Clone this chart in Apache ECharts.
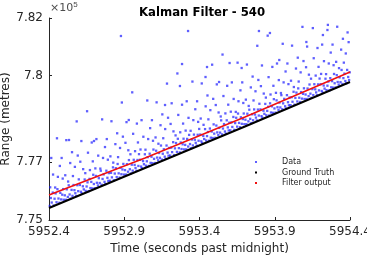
<!DOCTYPE html>
<html>
<head>
<meta charset="utf-8">
<script src="https://cdn.jsdelivr.net/npm/echarts@6/dist/echarts.min.js"></script>
<style>
  html, body { margin: 0; padding: 0; background: #fff; }
  #chart { width: 367px; height: 257px; }
</style>
</head>
<body>
<div id="chart"></div>
<script>
const xTicks = [5952.4, 5952.9, 5953.4, 5953.9, 5954.4];
const yTicks = [775000, 777000, 780000, 782000];
const seriesNames = ['Data', 'Ground Truth', 'Filter output'];

// ground truth and filter output, read at a few times along the lines
const truthPoints = [[5952.4, 775416], [5953.038, 776802], [5953.702, 778240], [5954.4, 779782]];
const filterPoints = [[5952.4, 775866], [5953.038, 777148], [5953.702, 778569], [5954.4, 780128]];

// measured ranges (blue dots)
const dataPoints = [
  [5952.405,775487],[5952.412,775762],[5952.418,775605],[5952.425,775951],[5952.431,775504],[5952.437,775737],[5952.444,775922],[5952.450,775615],
  [5952.456,776068],[5952.463,775744],[5952.469,775597],[5952.475,775940],[5952.481,775713],[5952.488,775878],[5952.494,776071],[5952.498,775700],
  [5952.408,776133],[5952.427,776575],[5952.441,776126],[5952.459,776495],[5952.472,776873],[5952.491,776435],[5952.415,777149],[5952.453,777832],[5952.484,777149],

  [5952.505,775855],[5952.512,775700],[5952.518,776063],[5952.525,775799],[5952.531,776202],[5952.537,775885],[5952.544,775740],[5952.550,776043],
  [5952.556,775836],[5952.563,776212],[5952.569,776035],[5952.575,775928],[5952.581,775831],[5952.588,776206],[5952.594,775999],[5952.598,776408],
  [5952.508,776551],[5952.527,776333],[5952.541,776974],[5952.559,776523],[5952.572,776841],[5952.591,777233],[5952.515,777767],[5952.553,777350],[5952.584,778417],

  [5952.605,776214],[5952.612,775979],[5952.618,775922],[5952.625,776168],[5952.631,776061],[5952.637,776404],[5952.644,776009],[5952.650,776162],
  [5952.656,776305],[5952.663,776001],[5952.669,776424],[5952.675,776107],[5952.681,776320],[5952.688,776095],[5952.694,776568],[5952.698,776247],
  [5952.608,777020],[5952.627,776762],[5952.641,776623],[5952.659,777332],[5952.672,776730],[5952.691,777032],[5952.615,777736],[5952.653,778769],[5952.684,777686],

  [5952.705,776102],[5952.712,776527],[5952.718,776290],[5952.725,776196],[5952.731,776449],[5952.737,776282],[5952.744,776707],[5952.750,776220],
  [5952.756,776423],[5952.763,776579],[5952.769,776322],[5952.775,776245],[5952.781,776708],[5952.788,776463],[5952.794,776356],[5952.798,776625],
  [5952.708,776788],[5952.727,777230],[5952.741,776781],[5952.759,777150],[5952.772,777528],[5952.791,777090],[5952.715,777804],[5952.753,778487],[5952.784,777804],

  [5952.805,776360],[5952.812,776635],[5952.818,776478],[5952.825,776824],[5952.831,776377],[5952.837,776610],[5952.844,776795],[5952.850,776488],
  [5952.856,776941],[5952.863,776617],[5952.869,776470],[5952.875,776813],[5952.881,776586],[5952.888,776751],[5952.894,776944],[5952.898,776573],
  [5952.808,777206],[5952.827,776988],[5952.841,777629],[5952.859,777178],[5952.872,777496],[5952.891,777888],[5952.815,778422],[5952.853,778005],[5952.884,779072],

  [5952.905,776729],[5952.912,776574],[5952.918,776937],[5952.925,776673],[5952.931,777076],[5952.937,776759],[5952.944,776614],[5952.950,776917],
  [5952.956,776710],[5952.963,777086],[5952.969,776909],[5952.975,776802],[5952.981,776705],[5952.988,777080],[5952.994,776873],[5952.998,777282],
  [5952.908,777675],[5952.927,777417],[5952.941,777278],[5952.959,777987],[5952.972,777385],[5952.991,777687],[5952.915,778391],[5952.953,779424],[5952.984,778341],

  [5953.005,777087],[5953.012,776852],[5953.018,776795],[5953.025,777041],[5953.031,776934],[5953.037,777277],[5953.044,776882],[5953.050,777035],
  [5953.056,777178],[5953.063,776874],[5953.069,777297],[5953.075,776980],[5953.081,777193],[5953.088,776968],[5953.094,777441],[5953.098,777120],
  [5953.008,777443],[5953.027,777885],[5953.041,777436],[5953.059,777805],[5953.072,778183],[5953.091,777745],[5953.015,778459],[5953.053,779142],[5953.084,778459],

  [5953.105,776975],[5953.112,777400],[5953.118,777163],[5953.125,777069],[5953.131,777322],[5953.137,777155],[5953.144,777580],[5953.150,777093],
  [5953.156,777296],[5953.163,777452],[5953.169,777195],[5953.175,777118],[5953.181,777581],[5953.188,777336],[5953.194,777229],[5953.198,777498],
  [5953.108,777861],[5953.127,777643],[5953.141,778284],[5953.159,777833],[5953.172,778151],[5953.191,778543],[5953.115,779077],[5953.153,778660],[5953.184,779727],

  [5953.205,777233],[5953.212,777508],[5953.218,777351],[5953.225,777697],[5953.231,777250],[5953.237,777483],[5953.244,777668],[5953.250,777361],
  [5953.256,777814],[5953.263,777490],[5953.269,777343],[5953.275,777686],[5953.281,777459],[5953.288,777624],[5953.294,777817],[5953.298,777446],
  [5953.208,778329],[5953.227,778071],[5953.241,777932],[5953.259,778641],[5953.272,778039],[5953.291,778341],[5953.215,779045],[5953.253,780078],[5953.284,778995],

  [5953.305,777602],[5953.312,777447],[5953.318,777810],[5953.325,777546],[5953.331,777949],[5953.337,777632],[5953.344,777487],[5953.350,777790],
  [5953.356,777583],[5953.363,777959],[5953.369,777782],[5953.375,777675],[5953.381,777578],[5953.388,777953],[5953.394,777746],[5953.398,778155],
  [5953.308,778098],[5953.327,778540],[5953.341,778091],[5953.359,778460],[5953.372,778838],[5953.391,778400],[5953.315,779114],[5953.353,779797],[5953.384,779114],

  [5953.405,777960],[5953.412,777725],[5953.418,777668],[5953.425,777914],[5953.431,777807],[5953.437,778150],[5953.444,777755],[5953.450,777908],
  [5953.456,778051],[5953.463,777747],[5953.469,778170],[5953.475,777853],[5953.481,778066],[5953.488,777841],[5953.494,778314],[5953.498,777993],
  [5953.408,778516],[5953.427,778298],[5953.441,778939],[5953.459,778488],[5953.472,778806],[5953.491,779198],[5953.415,779732],[5953.453,779315],[5953.484,780382],

  [5953.505,777848],[5953.512,778273],[5953.518,778036],[5953.525,777942],[5953.531,778195],[5953.537,778028],[5953.544,778453],[5953.550,777966],
  [5953.556,778169],[5953.563,778325],[5953.569,778068],[5953.575,777991],[5953.581,778454],[5953.588,778209],[5953.594,778102],[5953.598,778371],
  [5953.508,778984],[5953.527,778726],[5953.541,778587],[5953.559,779296],[5953.572,778694],[5953.591,778996],[5953.515,779700],[5953.553,780733],[5953.584,779650],

  [5953.605,778107],[5953.612,778382],[5953.618,778225],[5953.625,778571],[5953.631,778124],[5953.637,778357],[5953.644,778542],[5953.650,778235],
  [5953.656,778688],[5953.663,778364],[5953.669,778217],[5953.675,778560],[5953.681,778333],[5953.688,778498],[5953.694,778691],[5953.698,778320],
  [5953.608,778753],[5953.627,779195],[5953.641,778746],[5953.659,779115],[5953.672,779493],[5953.691,779055],[5953.615,779769],[5953.653,780452],[5953.684,779769],

  [5953.705,778475],[5953.712,778320],[5953.718,778683],[5953.725,778419],[5953.731,778822],[5953.737,778505],[5953.744,778360],[5953.750,778663],
  [5953.756,778456],[5953.763,778832],[5953.769,778655],[5953.775,778548],[5953.781,778451],[5953.788,778826],[5953.794,778619],[5953.798,779028],
  [5953.708,779171],[5953.727,778953],[5953.741,779594],[5953.759,779143],[5953.772,779461],[5953.791,779853],[5953.715,780387],[5953.753,779970],[5953.784,781037],

  [5953.805,778833],[5953.812,778598],[5953.818,778541],[5953.825,778787],[5953.831,778680],[5953.837,779023],[5953.844,778628],[5953.850,778781],
  [5953.856,778924],[5953.863,778620],[5953.869,779043],[5953.875,778726],[5953.881,778939],[5953.888,778714],[5953.894,779187],[5953.898,778866],
  [5953.808,779639],[5953.827,779381],[5953.841,779242],[5953.859,779951],[5953.872,779349],[5953.891,779651],[5953.815,780355],[5953.853,781388],[5953.884,780305],

  [5953.905,778721],[5953.912,779146],[5953.918,778909],[5953.925,778815],[5953.931,779068],[5953.937,778901],[5953.944,779326],[5953.950,778839],
  [5953.956,779042],[5953.963,779198],[5953.969,778941],[5953.975,778864],[5953.981,779327],[5953.988,779082],[5953.994,778975],[5953.998,779244],
  [5953.908,779407],[5953.927,779849],[5953.941,779400],[5953.959,779769],[5953.972,780147],[5953.991,779709],[5953.915,780423],[5953.953,781106],[5953.984,780423],

  [5954.005,778980],[5954.012,779255],[5954.018,779098],[5954.025,779444],[5954.031,778997],[5954.037,779230],[5954.044,779415],[5954.050,779108],
  [5954.056,779561],[5954.063,779237],[5954.069,779090],[5954.075,779433],[5954.081,779206],[5954.088,779371],[5954.094,779564],[5954.098,779193],
  [5954.008,779826],[5954.027,779608],[5954.041,780249],[5954.059,779798],[5954.072,780116],[5954.091,780508],[5954.015,781042],[5954.053,780625],[5954.084,781692],

  [5954.105,779348],[5954.112,779193],[5954.118,779556],[5954.125,779292],[5954.131,779695],[5954.137,779378],[5954.144,779233],[5954.150,779536],
  [5954.156,779329],[5954.163,779705],[5954.169,779528],[5954.175,779421],[5954.181,779324],[5954.188,779699],[5954.194,779492],[5954.198,779901],
  [5954.108,780294],[5954.127,780036],[5954.141,779897],[5954.159,780606],[5954.172,780004],[5954.191,780306],[5954.115,781010],[5954.153,781650],[5954.184,780960],

  [5954.205,779706],[5954.212,779471],[5954.218,779414],[5954.225,779660],[5954.231,779553],[5954.237,779896],[5954.244,779501],[5954.250,779654],
  [5954.256,779797],[5954.263,779493],[5954.269,779916],[5954.275,779599],[5954.281,779812],[5954.288,779587],[5954.294,780060],[5954.298,779739],
  [5954.208,780062],[5954.227,780504],[5954.241,780055],[5954.259,780424],[5954.272,780802],[5954.291,780364],[5954.215,781078],[5954.253,781761],[5954.284,781078],

  [5954.305,779595],[5954.312,780020],[5954.318,779783],[5954.325,779689],[5954.331,779942],[5954.337,779775],[5954.344,780200],[5954.350,779713],
  [5954.356,779916],[5954.363,780072],[5954.369,779815],[5954.375,779738],[5954.381,780201],[5954.388,779956],[5954.394,779849],[5954.398,780118],
  [5954.308,780481],[5954.327,780263],[5954.341,780904],[5954.359,780453],[5954.372,780771],[5954.391,781163],[5954.315,781697],[5954.353,781280],[5954.384,781500],

  // scattered outliers
  [5952.878,781376],[5953.324,781549],[5953.284,780405],[5953.270,779643],[5953.171,778985],[5952.533,777772],[5952.699,777737],[5952.930,778465],
  [5953.795,781549],[5953.868,781480],[5954.220,781410],[5954.250,781584],[5954.110,781168],[5953.600,780440],[5953.450,780301],[5953.680,780267],
  [5953.930,780544],[5953.530,779782],[5953.440,779955]
];

const axisColor = '#262626';
const font = 'DejaVu Sans';

const chart = echarts.init(document.getElementById('chart'));

const option = {
  animation: false,
  textStyle: { fontFamily: font },
  title: {
    text: 'Kalman Filter - 540',
    left: 134,
    top: 2,
    textStyle: { fontSize: 11.7, fontWeight: 'bold', color: '#000', fontFamily: font },
  },
  graphic: [
    {
      type: 'text',
      left: 50,
      top: 1,
      style: {
        text: '×10{sup|5}',
        fill: '#4d4d4d',
        font: '11px "DejaVu Sans"',
        rich: { sup: { fontSize: 8, verticalAlign: 'top', padding: [0, 0, 6, 0], fill: '#4d4d4d' } },
      },
    },
  ],
  legend: {
    data: seriesNames,
    orient: 'vertical',
    left: 250,
    top: 152,
    icon: 'rect',
    itemWidth: 2,
    itemHeight: 2,
    itemGap: 0.5,
    textStyle: { fontSize: 8, color: axisColor, fontFamily: font, padding: [0, 0, 0, 20], lineHeight: 10 },
  },
  grid: { left: 49, right: 17, top: 18, bottom: 37, outerBoundsMode: 'none' },
  xAxis: {
    type: 'value',
    min: 5952.4,
    max: 5954.4,
    name: 'Time (seconds past midnight)',
    nameLocation: 'middle',
    nameGap: 23,
    nameMoveOverlap: false,
    nameTextStyle: { fontSize: 12, color: axisColor, fontFamily: font },
    axisLine: { lineStyle: { color: axisColor, width: 1 } },
    axisTick: { inside: true, length: 3, customValues: xTicks, lineStyle: { color: axisColor } },
    axisLabel: {
      customValues: xTicks,
      formatter: (v) => v.toFixed(1),
      color: axisColor,
      fontSize: 12,
      margin: 6,
      showMaxLabel: true,
      hideOverlap: false,
    },
    splitLine: { show: false },
  },
  yAxis: {
    type: 'value',
    min: 775000,
    max: 782000,
    name: 'Range (metres)',
    nameLocation: 'middle',
    nameGap: 37,
    nameMoveOverlap: false,
    nameTextStyle: { fontSize: 12, color: axisColor, fontFamily: font },
    axisLine: { show: true, lineStyle: { color: axisColor, width: 1 } },
    axisTick: { show: true, inside: true, length: 3, customValues: yTicks, lineStyle: { color: axisColor } },
    axisLabel: {
      customValues: yTicks,
      formatter: (v) => String(v / 1e5),
      color: axisColor,
      fontSize: 12,
      margin: 6,
    },
    splitLine: { show: false },
  },
  series: [
    {
      name: 'Data',
      type: 'scatter',
      data: dataPoints,
      symbol: 'rect',
      symbolSize: 2.3,
      itemStyle: { color: 'rgba(20,20,255,0.85)' },
      silent: true,
    },
    {
      name: 'Ground Truth',
      type: 'line',
      data: truthPoints,
      showSymbol: false,
      itemStyle: { color: '#000' },
      lineStyle: { color: '#000', width: 2 },
      silent: true,
    },
    {
      name: 'Filter output',
      type: 'line',
      data: filterPoints,
      showSymbol: false,
      itemStyle: { color: '#f01010' },
      lineStyle: { color: '#f01010', width: 1.6 },
      silent: true,
    },
  ],
};

chart.setOption(option);
</script>
</body>
</html>
